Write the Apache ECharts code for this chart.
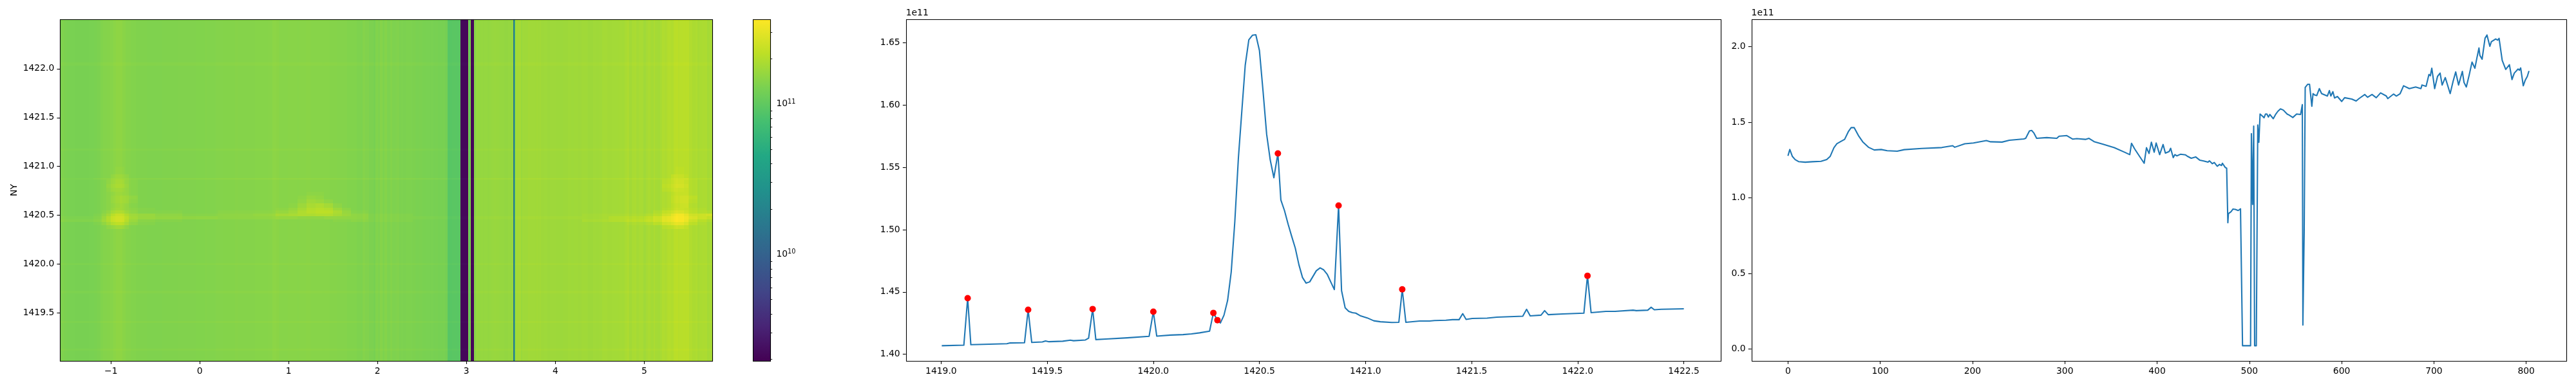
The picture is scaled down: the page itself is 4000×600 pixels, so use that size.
<!DOCTYPE html>
<html><head><meta charset="utf-8">
<style>html,body{margin:0;padding:0;background:#fff}#c{width:4000px;height:600px}</style>
<script src="https://cdn.jsdelivr.net/npm/echarts@6/dist/echarts.min.js"></script>
</head><body><div id="c"></div>
<script>
// Column profile (right panel): [column index, value in 1e11]
const columnProfile = [[0,1.278],[2,1.32],[4.7,1.275],[7.8,1.253],[11.5,1.24],[18.7,1.236],[26.5,1.239],[35.8,1.242],[42,1.253],[45.8,1.275],[49.8,1.332],[53,1.358],[57.6,1.374],[61.4,1.387],[65.4,1.438],[68.5,1.465],[71.7,1.465],[76.3,1.413],[81,1.371],[87.2,1.335],[93.5,1.317],[101,1.32],[107.5,1.312],[118.4,1.309],[126,1.319],[144.9,1.327],[166.7,1.333],[178.5,1.345],[180.7,1.335],[191.6,1.358],[201,1.363],[215,1.379],[219.6,1.371],[232,1.369],[239.9,1.381],[255.5,1.39],[257.6,1.394],[261.7,1.443],[264.2,1.446],[266.4,1.43],[269.5,1.394],[280.4,1.399],[291.3,1.394],[293.8,1.408],[302.2,1.412],[308.4,1.389],[313,1.392],[322.4,1.387],[326.2,1.394],[331.8,1.372],[341,1.356],[353.6,1.332],[364.8,1.302],[370.4,1.286],[372.3,1.361],[375.7,1.324],[380.4,1.28],[386,1.229],[388.5,1.332],[391.3,1.294],[393.8,1.368],[396.9,1.302],[399,1.363],[402.8,1.286],[406.5,1.353],[409,1.296],[413.1,1.307],[414.7,1.328],[417.5,1.266],[419.3,1.286],[421.5,1.278],[425.6,1.289],[430.9,1.284],[432.7,1.276],[434,1.281],[437,1.262],[441.8,1.271],[446.4,1.249],[450.5,1.244],[455.2,1.236],[456.7,1.245],[459.9,1.226],[462,1.234],[465.2,1.209],[467.6,1.221],[469.8,1.214],[470.8,1.229],[473.9,1.201],[475.4,1.196],[476.7,0.835],[477.3,0.895],[480.1,0.908],[482.3,0.926],[484.8,0.923],[487.9,0.916],[490.4,0.927],[492.6,0.021],[501.3,0.021],[502.2,1.425],[502.9,1.421],[503.5,0.957],[504.7,1.475],[505.7,0.021],[507.5,0.021],[509.1,1.482],[510,1.478],[510.3,1.368],[511.6,1.555],[514.4,1.54],[515.9,1.53],[517.5,1.555],[519,1.555],[520.6,1.535],[522.2,1.552],[525.9,1.524],[528.4,1.552],[530.9,1.573],[533.7,1.589],[536.8,1.581],[540.9,1.555],[543.1,1.548],[547.1,1.532],[551.2,1.555],[555.5,1.552],[557.4,1.617],[558,0.158],[558.7,0.155],[559.4,0.77],[560.5,1.731],[561.8,1.726],[563.3,1.752],[565.2,1.752],[567.7,1.606],[569,1.69],[570.5,1.682],[573,1.677],[575.8,1.723],[578.3,1.69],[584.5,1.674],[586.7,1.71],[588.3,1.674],[590.5,1.703],[592.3,1.661],[595.4,1.671],[600.1,1.638],[603.2,1.663],[611,1.654],[615.7,1.641],[618.8,1.657],[625.1,1.684],[628.2,1.666],[632.9,1.684],[637.5,1.663],[642.2,1.695],[648.4,1.674],[650,1.657],[656.2,1.687],[659.3,1.674],[663.4,1.69],[667.1,1.742],[673.4,1.723],[680.2,1.734],[685.9,1.723],[687.1,1.747],[691.5,1.738],[694.6,1.817],[696.1,1.808],[697.7,1.858],[700.8,1.723],[703.9,1.804],[706.7,1.826],[708.9,1.747],[712.3,1.796],[717.6,1.69],[720.8,1.772],[723.6,1.834],[726.7,1.747],[730.8,1.837],[732.6,1.764],[735.1,1.734],[738.2,1.813],[741.3,1.899],[744.4,1.858],[746.6,1.927],[748.8,1.992],[749.8,1.943],[752.2,1.918],[755.4,2.057],[757.5,2.078],[760.6,2.003],[762.2,2.033],[766.9,2.052],[769.1,2.044],[770.6,2.056],[774,1.91],[777.8,1.85],[781.8,1.881],[784.6,1.783],[787.1,1.826],[791.2,1.853],[792.7,1.845],[794,1.86],[796.8,1.742],[799,1.78],[801.2,1.804],[803,1.84]];

// Row profile (middle panel): [NY, value in 1e11]
const rowProfile = [[1419.003,1.4069],[1419.107,1.4073],[1419.125,1.445],[1419.14,1.4077],[1419.173,1.4079],[1419.31,1.4085],[1419.325,1.4091],[1419.393,1.4093],[1419.41,1.4357],[1419.427,1.4095],[1419.477,1.4099],[1419.492,1.4107],[1419.508,1.4101],[1419.573,1.4105],[1419.609,1.4113],[1419.624,1.4109],[1419.68,1.4115],[1419.695,1.413],[1419.714,1.4363],[1419.729,1.4118],[1419.776,1.4122],[1419.877,1.4132],[1419.98,1.4144],[1420,1.4342],[1420.016,1.4146],[1420.08,1.4154],[1420.14,1.4158],[1420.18,1.4164],[1420.218,1.4172],[1420.265,1.4186],[1420.283,1.4332],[1420.302,1.4274],[1420.316,1.4251],[1420.333,1.4314],[1420.35,1.4432],[1420.367,1.466],[1420.384,1.5064],[1420.401,1.5578],[1420.418,1.5973],[1420.433,1.6318],[1420.45,1.6522],[1420.467,1.6559],[1420.483,1.6563],[1420.5,1.6437],[1420.517,1.6111],[1420.534,1.5765],[1420.551,1.5558],[1420.568,1.5416],[1420.587,1.5611],[1420.601,1.5238],[1420.618,1.5153],[1420.635,1.5045],[1420.652,1.4946],[1420.669,1.4851],[1420.686,1.4719],[1420.703,1.4616],[1420.72,1.4571],[1420.737,1.4581],[1420.768,1.467],[1420.786,1.4693],[1420.803,1.4677],[1420.82,1.464],[1420.837,1.4577],[1420.853,1.4519],[1420.873,1.5193],[1420.887,1.4511],[1420.904,1.4373],[1420.921,1.4344],[1420.938,1.4334],[1420.954,1.433],[1420.977,1.4308],[1421.008,1.4292],[1421.039,1.4269],[1421.07,1.4261],[1421.124,1.4255],[1421.157,1.4257],[1421.173,1.4521],[1421.19,1.4257],[1421.255,1.4267],[1421.302,1.4267],[1421.325,1.4271],[1421.379,1.4273],[1421.41,1.4278],[1421.441,1.4278],[1421.458,1.4326],[1421.474,1.428],[1421.503,1.4288],[1421.573,1.429],[1421.619,1.4298],[1421.741,1.4306],[1421.759,1.4361],[1421.776,1.4308],[1421.827,1.4314],[1421.844,1.435],[1421.861,1.4318],[1421.929,1.4324],[1422.029,1.433],[1422.046,1.463],[1422.063,1.4334],[1422.133,1.4344],[1422.176,1.4344],[1422.261,1.4354],[1422.276,1.435],[1422.33,1.4354],[1422.346,1.4377],[1422.361,1.4357],[1422.393,1.4361],[1422.5,1.4365]];

const rowPeaks = [[1419.125,1.445],[1419.41,1.4357],[1419.714,1.4363],[1420,1.4342],[1420.283,1.4332],[1420.302,1.4274],[1420.587,1.5611],[1420.873,1.5193],[1421.173,1.4521],[1422.046,1.463]];

// Heat map: local brightening, in hundredths of the colour range.
const featureColEdges = [-1.6,-1.2,-1.1,-1.05,-1,-0.95,-0.9,-0.85,-0.8,-0.7,-0.5,-0.2,0.2,0.6,0.85,1,1.1,1.2,1.3,1.4,1.5,1.6,1.7,1.9,2.4,4.3,4.6,4.8,5,5.1,5.2,5.3,5.35,5.4,5.45,5.5,5.6,5.7,5.8];
const featureRowEdges = [1421,1420.92,1420.88,1420.865,1420.82,1420.78,1420.74,1420.7,1420.66,1420.62,1420.58,1420.55,1420.52,1420.49,1420.46,1420.43,1420.4,1420.36];
const featureTable = [
[0,0,0,0,0,1,1,0,0,0,0,0,0,0,0,0,0,0,0,0,0,0,0,0,0,0,0,0,0,0,0,0,1,1,0,0,0,0],
[0,0,0,0,2,3,3,2,0,0,0,0,0,0,0,0,0,0,0,0,0,0,0,0,0,0,0,0,0,0,0,3,3,3,1,0,0,0],
[1,2,2,2,4,4,4,4,2,2,2,2,2,2,2,2,2,2,2,2,2,2,2,2,2,2,2,2,2,2,2,5,5,5,5,2,2,2],
[0,0,0,2,4,5,5,3,1,0,0,0,0,0,0,0,0,0,0,0,0,0,0,0,0,0,0,0,0,0,2,4,5,5,3,1,0,0],
[0,0,0,3,5,6,6,4,1,0,0,0,0,0,0,0,0,0,0,0,0,0,0,0,0,0,0,0,0,0,3,5,6,6,4,1,0,0],
[0,0,0,2,4,4,4,3,1,0,0,0,0,0,0,0,0,0,0,0,0,0,0,0,0,0,0,0,0,0,2,4,4,4,3,1,0,0],
[0,0,0,1,2,3,3,3,1,0,0,0,0,0,0,0,0,1,1,0,0,0,0,0,0,0,0,0,0,0,0,2,3,3,3,1,0,0],
[0,0,0,1,3,4,5,5,3,0,0,0,0,0,0,0,1,3,2,0,0,0,0,0,0,0,0,0,0,0,0,3,4,5,5,3,0,0],
[0,0,0,1,3,4,5,5,2,0,0,0,0,0,0,0,2,5,4,2,0,0,0,0,0,0,0,0,0,0,0,3,4,5,5,2,0,0],
[0,0,0,1,2,3,4,3,1,0,0,0,0,0,0,1,4,7,8,6,2,0,0,0,0,0,0,0,0,0,0,2,3,4,4,1,0,0],
[0,0,0,1,3,4,4,3,2,1,0,0,0,0,1,3,6,9,10,9,5,2,0,0,0,0,0,0,0,0,1,3,4,4,3,2,1,0],
[0,0,1,3,6,7,7,5,3,1,1,0,1,1,3,5,8,10,11,11,8,4,1,0,0,0,0,0,0,2,4,6,7,7,5,3,2,2],
[0,1,3,6,10,12,12,9,6,5,3,1,2,3,6,7,8,8,9,9,7,5,3,1,0,1,1,1,2,4,7,11,13,13,10,7,7,9],
[1,2,5,9,13,14,14,11,7,5,4,3,2,2,3,3,2,2,2,3,3,3,3,1,1,1,3,3,5,8,11,13,14,14,12,9,7,6],
[2,3,6,9,13,14,14,10,5,2,1,0,0,0,0,0,0,0,0,0,1,1,2,1,0,2,3,4,6,8,11,13,14,14,11,6,3,2],
[0,1,3,6,9,10,10,7,3,1,0,0,0,0,0,0,0,0,0,0,0,0,0,0,0,0,0,1,2,4,7,9,10,10,7,3,1,0],
[0,0,0,2,3,4,4,2,0,0,0,0,0,0,0,0,0,0,0,0,0,0,0,0,0,0,0,0,0,0,2,3,4,4,2,0,0,0]
];
const faintRowBands = [[1422.065,1422.03],[1421.185,1421.16],[1419.725,1419.7],[1420.01,1419.99],[1419.135,1419.115],[1419.42,1419.4]];

// Axis ticks
const heatXTicks = [-1,0,1,2,3,4,5];
const heatYTicks = [1419.5,1420,1420.5,1421,1421.5,1422];
const midXTicks = [1419,1419.5,1420,1420.5,1421,1421.5,1422,1422.5];
const midYTicks = [1.4,1.45,1.5,1.55,1.6,1.65];
const rightXTicks = [0,100,200,300,400,500,600,700,800];
const rightYTicks = [0,0.5,1,1.5,2];
const barMajorTicks = [1e10,1e11];
const barMinorTicks = [2e9,3e9,4e9,5e9,6e9,7e9,8e9,9e9,2e10,3e10,4e10,5e10,6e10,7e10,8e10,9e10,2e11,3e11];

const VIRIDIS = ['#440154','#482475','#414487','#355f8d','#2a788e','#21918c','#22a884','#44bf70','#7ad151','#bddf26','#fde725'];
const LOG_MIN = 9.291, LOG_MAX = 11.5625, IMAGE_SCALE = 1.02, FEATURE_SCALE = 0.72;
const HX = [-1.572, 5.768], HY = [1419.01, 1422.506];
const FONT = 'DejaVu Sans', TICK = 4.86, LW = 1.1;

// Build the image table from the column profile and the brightening table
function heatCells() {
  const perCol = (HX[1]-HX[0])/803;
  const colX = columnProfile.map(p => HX[0]+p[0]*perCol);
  const edgeSet = new Set(colX.concat(featureColEdges.filter(x => x>HX[0] && x<HX[1])).concat([HX[1]]));
  const xs = Array.from(edgeSet).sort((a,b)=>a-b);
  const findCol = x => { let k=0; while(k<colX.length-1 && colX[k+1]<=x) k++; return k; };
  const findF = x => { let k=0; while(k<featureColEdges.length-2 && featureColEdges[k+1]<=x) k++; return k; };
  const bands = [];
  for (let i=0;i<xs.length-1;i++){
    const mid=(xs[i]+xs[i+1])/2;
    bands.push({x0:xs[i],x1:xs[i+1],v:Math.log10(columnProfile[findCol(mid)][1]*1e11*IMAGE_SCALE),f:findF(mid)});
  }
  const cells=[]; const range=LOG_MAX-LOG_MIN;
  const clamp=v=>Math.min(LOG_MAX,Math.max(LOG_MIN,v));
  const push=(y0,y1,fn)=>bands.forEach(b=>cells.push([b.x0,b.x1,y0,y1,clamp(b.v+fn(b)*FEATURE_SCALE*range/100)]));
  push(HY[1],featureRowEdges[0],()=>0);
  featureTable.forEach((row,r)=>push(featureRowEdges[r],featureRowEdges[r+1],b=>row[b.f]));
  push(featureRowEdges[featureRowEdges.length-1],HY[0],()=>0);
  faintRowBands.forEach(rb=>push(rb[0],rb[1],()=>1));
  return cells;
}

const axisBase = (min,max,ticks,fmt,extra) => Object.assign({
  type:'value',min:min,max:max,
  axisLine:{show:false,onZero:false},
  axisTick:{show:true,customValues:ticks,length:TICK,lineStyle:{color:'#000',width:LW}},
  axisLabel:{show:true,customValues:ticks,margin:9,color:'#000',fontFamily:FONT,fontSize:13.9,formatter:fmt},
  splitLine:{show:false},minorTick:{show:false}
},extra||{});
const minusFmt=v=>String(v).replace('-','\u2212');
const fix1=v=>v.toFixed(1), fix2=v=>v.toFixed(2);
const nameStyle={color:'#000',fontFamily:FONT,fontSize:13.9};
const gridBase={show:false,containLabel:false};

const frame = (xi,yi,x0,x1,y0,y1) => ({
  type:'custom',xAxisIndex:xi,yAxisIndex:yi,clip:false,z:20,silent:true,
  data:[[x0,x1,y0,y1]],encode:{x:[0,1],y:[2,3]},
  renderItem:(p,api)=>{
    const a=api.coord([api.value(0),api.value(3)]),b=api.coord([api.value(1),api.value(2)]);
    const l=Math.round(a[0])+0.5,t=Math.round(a[1])+0.5,r=Math.round(b[0])+0.5,bt=Math.round(b[1])+0.5;
    return {type:'rect',shape:{x:l,y:t,width:r-l,height:bt-t},style:{fill:'none',stroke:'#000',lineWidth:LW}};
  }
});

const option={
  animation:false,backgroundColor:'#fff',
  grid:[
    Object.assign({left:93.3,top:30,width:1013,height:531},gridBase),
    Object.assign({left:1169.4,top:30,width:27,height:531},gridBase),
    Object.assign({left:1406.7,top:30,width:1265.6,height:531},gridBase),
    Object.assign({left:2719.6,top:30,width:1265.7,height:531},gridBase)
  ],
  xAxis:[
    axisBase(HX[0],HX[1],heatXTicks,minusFmt,{gridIndex:0}),
    {type:'value',gridIndex:1,min:0,max:1,show:false},
    axisBase(1418.834,1422.675,midXTicks,fix1,{gridIndex:2}),
    axisBase(-39.6,843.7,rightXTicks,v=>String(v),{gridIndex:3})
  ],
  yAxis:[
    axisBase(HY[0],HY[1],heatYTicks,fix1,{gridIndex:0,name:'NY',nameLocation:'middle',nameGap:64,nameTextStyle:nameStyle}),
    {type:'value',gridIndex:1,min:LOG_MIN,max:LOG_MAX,position:'right',
      axisLine:{show:false},splitLine:{show:false},
      axisTick:{show:true,customValues:barMajorTicks.map(Math.log10),length:TICK,lineStyle:{color:'#000',width:LW}},
      axisLabel:{show:true,customValues:barMajorTicks.map(Math.log10),margin:9,color:'#000',fontFamily:FONT,fontSize:13.9,
        formatter:v=>'{b|10}{s|'+Math.round(v)+'}',
        rich:{b:{fontFamily:FONT,fontSize:13.9,color:'#000'},s:{fontFamily:FONT,fontSize:9.7,color:'#000',verticalAlign:'top',padding:[0,0,7,0]}}}},
    {type:'value',gridIndex:1,min:LOG_MIN,max:LOG_MAX,position:'right',
      axisLine:{show:false},splitLine:{show:false},axisLabel:{show:false},
      axisTick:{show:true,customValues:barMinorTicks.map(Math.log10),length:2.8,lineStyle:{color:'#000',width:0.85}}},
    axisBase(1.3947,1.6687,midYTicks,fix2,{gridIndex:2,name:'1e11',nameLocation:'end',nameGap:3,
      nameTextStyle:Object.assign({align:'left',verticalAlign:'bottom'},nameStyle)}),
    axisBase(-0.0796,2.182,rightYTicks,fix1,{gridIndex:3,name:'1e11',nameLocation:'end',nameGap:3,
      nameTextStyle:Object.assign({align:'left',verticalAlign:'bottom'},nameStyle)})
  ],
  visualMap:[{type:'continuous',show:false,seriesIndex:0,dimension:4,min:LOG_MIN,max:LOG_MAX,inRange:{color:VIRIDIS}}],
  series:[
    {type:'custom',xAxisIndex:0,yAxisIndex:0,clip:true,z:2,silent:true,progressive:0,
     data:heatCells(),encode:{x:[0,1],y:[2,3]},dimensions:['x0','x1','y0','y1','v'],
     renderItem:(p,api)=>{
       const a=api.coord([api.value(0),api.value(2)]),b=api.coord([api.value(1),api.value(3)]);
       const l=Math.round(a[0]),r=Math.round(b[0]),t=Math.round(a[1]),bt=Math.round(b[1]);
       const c=api.visual('color');
       return {type:'rect',shape:{x:l,y:t,width:Math.max(r-l,1),height:Math.max(bt-t,1)},style:{fill:c,stroke:null}};
     }},
    frame(0,0,HX[0],HX[1],HY[0],HY[1]),
    {type:'custom',xAxisIndex:1,yAxisIndex:1,clip:true,z:2,silent:true,
     data:[[0,1,LOG_MIN,LOG_MAX]],encode:{x:[0,1],y:[2,3]},
     renderItem:(p,api)=>{
       const a=api.coord([api.value(0),api.value(3)]),b=api.coord([api.value(1),api.value(2)]);
       return {type:'rect',shape:{x:a[0],y:a[1],width:b[0]-a[0],height:b[1]-a[1]},
         style:{fill:new echarts.graphic.LinearGradient(0,1,0,0,VIRIDIS.map((c,i)=>({offset:i/10,color:c})))}};
     }},
    frame(1,1,0,1,LOG_MIN,LOG_MAX),
    {type:'custom',xAxisIndex:1,yAxisIndex:2,silent:true,data:[],renderItem:()=>null},
    frame(2,3,1418.834,1422.675,1.3947,1.6687),
    {type:'line',xAxisIndex:2,yAxisIndex:3,data:rowProfile,showSymbol:false,symbol:'none',
     lineStyle:{color:'#1f77b4',width:2.08,join:'round'},z:3,silent:true},
    {type:'scatter',xAxisIndex:2,yAxisIndex:3,data:rowPeaks,symbol:'circle',symbolSize:10,
     itemStyle:{color:'#ff0000',opacity:1},z:4,silent:true},
    frame(3,4,-39.6,843.7,-0.0796,2.182),
    {type:'line',xAxisIndex:3,yAxisIndex:4,data:columnProfile,showSymbol:false,symbol:'none',
     lineStyle:{color:'#1f77b4',width:2.08,join:'round'},z:3,silent:true}
  ]
};
const chart=echarts.init(document.getElementById('c'),null,{renderer:'canvas'});
chart.setOption(option);
</script></body></html>
